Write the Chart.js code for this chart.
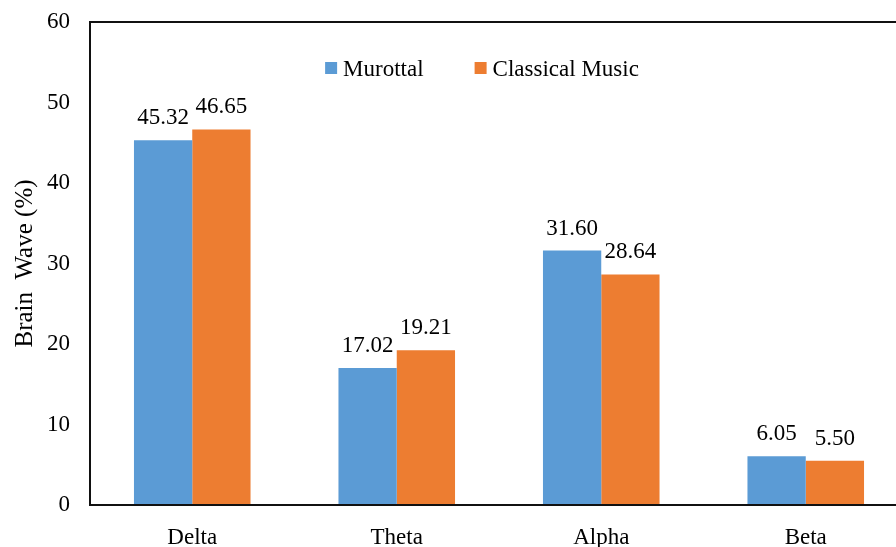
<!DOCTYPE html>
<html>
<head>
<meta charset="utf-8">
<script src="https://cdn.jsdelivr.net/npm/chart.js@4"></script>
<style>
html,body{margin:0;padding:0;background:#fff;overflow:hidden;}
#wrap{width:912px;height:560px;}
</style>
</head>
<body>
<div id="wrap"><canvas id="brainChart"></canvas></div>
<script>
const categories = ['Delta','Theta','Alpha','Beta'];
const murottal = [45.32,17.02,31.60,6.05];
const classical = [46.65,19.21,28.64,5.50];
const seriesNames = ['Murottal','Classical Music'];
const seriesColors = ['#5B9BD5','#ED7D31'];
const yTicks = [0,10,20,30,40,50,60];

const serif = "'Liberation Serif','Times New Roman',serif";

// value labels above each bar
const barLabels = {
id:'barLabels',
afterDatasetsDraw(chart){
const c = chart.ctx;
c.save();
c.font = "23px " + serif;
c.fillStyle = '#000';
c.textAlign = 'center';
c.textBaseline = 'alphabetic';
chart.data.datasets.forEach((ds,i)=>{
chart.getDatasetMeta(i).data.forEach((bar,j)=>{
c.fillText(ds.data[j].toFixed(2), bar.x, bar.y - 16);
});
});
c.restore();
}
};

// box round the plot + legend inside the plot area
const frameAndLegend = {
id:'frameAndLegend',
afterDraw(chart){
const c = chart.ctx;
const a = chart.chartArea;
c.save();
c.strokeStyle = '#111';
c.lineWidth = 2;
c.strokeRect(a.left, a.top, a.right - a.left, a.bottom - a.top);

c.font = "23px " + serif;
c.textBaseline = 'alphabetic';
c.textAlign = 'left';
const box = 12, gap = 6, spacing = 51;
const widths = seriesNames.map(n => c.measureText(n).width);
let total = 0;
widths.forEach((w,i)=>{ total += box + gap + w + (i < widths.length-1 ? spacing : 0); });
let x = 482 - total/2;
const baseline = a.top + 54;
seriesNames.forEach((n,i)=>{
c.fillStyle = seriesColors[i];
c.fillRect(x, baseline - 14, box, box);
c.fillStyle = '#000';
c.fillText(n, x + box + gap, baseline);
x += box + gap + widths[i] + spacing;
});
c.restore();
}
};

new Chart(document.getElementById('brainChart'),{
type:'bar',
data:{
labels:categories,
datasets:[
{label:seriesNames[0],data:murottal,backgroundColor:seriesColors[0],categoryPercentage:0.57,barPercentage:1},
{label:seriesNames[1],data:classical,backgroundColor:seriesColors[1],categoryPercentage:0.57,barPercentage:1}
]
},
options:{
responsive:true,
maintainAspectRatio:false,
animation:false,
layout:{padding:{top:22,right:4,bottom:0,left:0}},
plugins:{
legend:{display:false},
tooltip:{enabled:false}
},
scales:{
x:{
grid:{display:false,drawTicks:false},
border:{display:false},
ticks:{color:'#000',font:{family:serif,size:23},padding:19},
afterFit(s){ s.height = 55; s.paddingLeft = 0; s.paddingRight = 0; }
},
y:{
min:0,max:60,
grid:{display:false,drawTicks:false},
border:{display:false},
afterBuildTicks(s){ s.ticks = yTicks.map(v=>({value:v})); },
ticks:{color:'#000',font:{family:serif,size:23},padding:20},
title:{display:true,text:'Brain  Wave (%)',color:'#000',font:{family:serif,size:25},padding:10},
afterFit(s){ s.width = 90; s.paddingTop = 0; s.paddingBottom = 0; }
}
}
},
plugins:[barLabels,frameAndLegend]
});
</script>
</body>
</html>
